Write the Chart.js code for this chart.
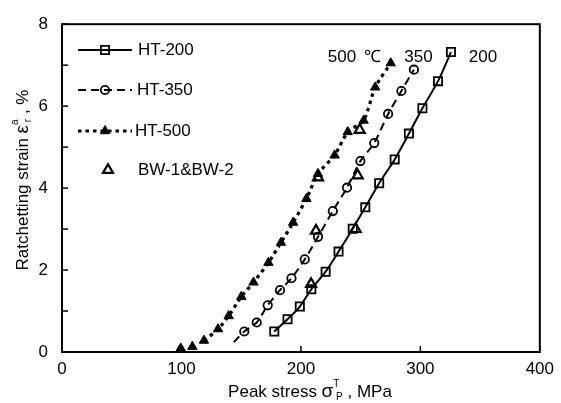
<!DOCTYPE html>
<html><head><meta charset="utf-8">
<script src="https://cdn.jsdelivr.net/npm/chart.js@4"></script>
<style>html,body{margin:0;padding:0;background:#fff}#wrap{width:561px;height:403px}</style>
</head><body><div id="wrap"><canvas id="c" width="561" height="403"></canvas></div>
<script>
const xTicks = [0, 100, 200, 300, 400];
const yTicks = [0, 2, 4, 6, 8];
const ht200X = [177.7, 188.8, 199.1, 208.7, 220.7, 231.5, 243.4, 253.9, 265.5, 278.5, 290.4, 301.7, 314.8, 325.6];
const ht200Y = [0.50, 0.80, 1.11, 1.53, 1.96, 2.45, 3.01, 3.53, 4.12, 4.70, 5.33, 5.95, 6.61, 7.32];
const ht350X = [143.7, 152.6, 163.0, 172.2, 182.5, 192.1, 203.2, 214.3, 226.7, 238.6, 249.8, 261.4, 273.0, 284.1, 294.6];
const ht350Y = [0.24, 0.50, 0.72, 1.14, 1.51, 1.80, 2.26, 2.81, 3.44, 4.01, 4.66, 5.10, 5.81, 6.37, 6.89];
const ht500X = [99.4, 109.1, 118.8, 130.6, 139.5, 150.1, 160.3, 172.8, 183.3, 193.5, 204.6, 214.3, 228.2, 239.2, 252.5, 262.2, 275.2];
const ht500Y = [0.09, 0.13, 0.28, 0.56, 0.88, 1.35, 1.70, 2.18, 2.67, 3.16, 3.74, 4.35, 4.80, 5.37, 5.65, 6.46, 7.05];
const bwX = [208.5, 212.6, 214.3, 245.8, 247.5, 249.2];
const bwY = [1.66, 2.96, 4.26, 3.00, 4.31, 5.42];
const seriesNames = ['HT-200', 'HT-350', 'HT-500', 'BW-1&BW-2'];
const tempLabels = ['500', '\u2103', '350', '200'];

const pts = (xs, ys) => xs.map((x, i) => ({x: x, y: ys[i]}));
const FONT = '"Liberation Sans", Arial, sans-serif';

const datasets = [
  {label: seriesNames[0], data: pts(ht200X, ht200Y), showLine: true, borderColor: '#000', borderWidth: 2,
   pointStyle: 'rect', pointRadius: 5.8, pointBorderWidth: 1.8, pointBackgroundColor: 'rgba(0,0,0,0)', pointBorderColor: '#000', tension: 0.25},
  {label: seriesNames[1], data: pts(ht350X, ht350Y), showLine: true, borderColor: '#000', borderWidth: 2, borderDash: [8, 5],
   pointStyle: 'circle', pointRadius: ht350X.map((v, i) => i === 0 ? 0 : 4.2), pointBorderWidth: 1.8, pointBackgroundColor: 'rgba(0,0,0,0)', pointBorderColor: '#000', tension: 0.25},
  {label: seriesNames[2], data: pts(ht500X, ht500Y), showLine: true, borderColor: '#000', borderWidth: 3.2, borderDash: [3.5, 4],
   pointStyle: 'triangle', pointRadius: 5.4, pointBorderWidth: 1, pointBackgroundColor: '#000', pointBorderColor: '#000', tension: 0.25,
   segment: {borderColor: ctx => ctx.p0DataIndex < 2 ? 'rgba(0,0,0,0)' : '#000'}},
  {label: seriesNames[3], data: pts(bwX, bwY), showLine: false,
   pointStyle: 'triangle', pointRadius: 5.8, pointBorderWidth: 2.2, pointBackgroundColor: 'rgba(0,0,0,0)', pointBorderColor: '#000'}
];

const decor = {
  id: 'decor',
  afterDatasetsDraw(chart) {
    const ctx = chart.ctx, a = chart.chartArea, xs = chart.scales.x, ys = chart.scales.y;
    ctx.save();
    ctx.strokeStyle = '#000'; ctx.lineWidth = 2;
    ctx.strokeRect(a.left, a.top, a.right - a.left, a.bottom - a.top);
    ctx.lineWidth = 1.5;
    for (let v = 0; v <= 8; v += 1) {
      const p = ys.getPixelForValue(v);
      ctx.beginPath(); ctx.moveTo(a.left, p); ctx.lineTo(a.left + 6, p); ctx.stroke();
    }
    for (let v = 0; v <= 400; v += 100) {
      const p = xs.getPixelForValue(v);
      ctx.beginPath(); ctx.moveTo(p, a.bottom); ctx.lineTo(p, a.bottom - 6); ctx.stroke();
    }
    ctx.fillStyle = '#000'; ctx.textBaseline = 'alphabetic';
    const drawRich = (parts, x, y) => {
      let w = 0;
      parts.forEach(p => { ctx.font = p[1] + 'px ' + FONT; p.w = p[3] ? 0 : ctx.measureText(p[0]).width; w += p.w; });
      let cx = x - w / 2;
      parts.forEach(p => {
        ctx.font = p[1] + 'px ' + FONT;
        ctx.fillText(p[0], cx, y + p[2]);
        if (!p[3]) cx += p.w;
      });
    };
    const xt = [['Peak stress ', 17, 0], ['\u03c3', 19, 0], ['T', 10, -10, true], [' P', 10, 3], [' , MPa', 17, 0]];
    drawRich(xt, 310, 397);
    ctx.save();
    ctx.translate(28, 180); ctx.rotate(-Math.PI / 2);
    const yt = [['Ratchetting strain ', 17, 0], ['\u03b5', 19, 0], ['a', 10, -10, true], [' r', 10, 3], [' , %', 17, 0]];
    drawRich(yt, 0, 0);
    ctx.restore();
    ctx.font = '17px ' + FONT; ctx.textAlign = 'left'; ctx.textBaseline = 'middle';
    const ty = ys.getPixelForValue(7.2);
    ctx.fillText(tempLabels[0], xs.getPixelForValue(222.5), ty);
    ctx.fillText(tempLabels[1], xs.getPixelForValue(253), ty);
    ctx.fillText(tempLabels[2], xs.getPixelForValue(286.5), ty);
    ctx.fillText(tempLabels[3], xs.getPixelForValue(340.5), ty);
    const rows = [50, 90, 131, 170];
    const textX = [138, 137, 135, 138];
    chart.data.datasets.forEach((ds, i) => {
      const y = rows[i];
      if (ds.showLine) {
        ctx.save();
        ctx.strokeStyle = '#000'; ctx.lineWidth = ds.borderWidth;
        ctx.setLineDash(ds.borderDash || []);
        ctx.beginPath(); ctx.moveTo(78, y); ctx.lineTo(132, y); ctx.stroke();
        ctx.restore();
      }
      ctx.save();
      ctx.lineWidth = ds.pointBorderWidth; ctx.strokeStyle = '#000'; ctx.fillStyle = ds.pointBackgroundColor;
      const r = Array.isArray(ds.pointRadius) ? ds.pointRadius[1] : ds.pointRadius;
      Chart.helpers.drawPoint(ctx, {pointStyle: ds.pointStyle, radius: r, borderWidth: ds.pointBorderWidth}, ds.showLine ? 105 : 108, y);
      ctx.restore();
      ctx.fillStyle = '#000'; ctx.font = '17px ' + FONT; ctx.textBaseline = 'middle'; ctx.textAlign = 'left';
      ctx.fillText(ds.label, textX[i], y);
    });
    ctx.restore();
  }
};

new Chart(document.getElementById('c'), {
  type: 'scatter',
  data: {datasets: datasets},
  options: {
    responsive: false, animation: false, devicePixelRatio: 1,
    layout: {padding: {top: 14, right: 18, left: 0, bottom: 0}},
    plugins: {legend: {display: false}, tooltip: {enabled: false}},
    scales: {
      x: {type: 'linear', min: 0, max: 400,
          afterBuildTicks: s => { s.ticks = xTicks.map(v => ({value: v})); },
          afterFit: s => { s.height = 51; },
          grid: {display: false, drawTicks: false}, border: {display: false},
          ticks: {color: '#000', font: {family: FONT, size: 17}, padding: 7, maxRotation: 0}},
      y: {type: 'linear', min: 0, max: 8,
          afterBuildTicks: s => { s.ticks = yTicks.map(v => ({value: v})); },
          afterFit: s => { s.width = 62; },
          grid: {display: false, drawTicks: false}, border: {display: false},
          ticks: {color: '#000', font: {family: FONT, size: 17}, padding: 14}}
    }
  },
  plugins: [decor]
});
</script></body></html>
